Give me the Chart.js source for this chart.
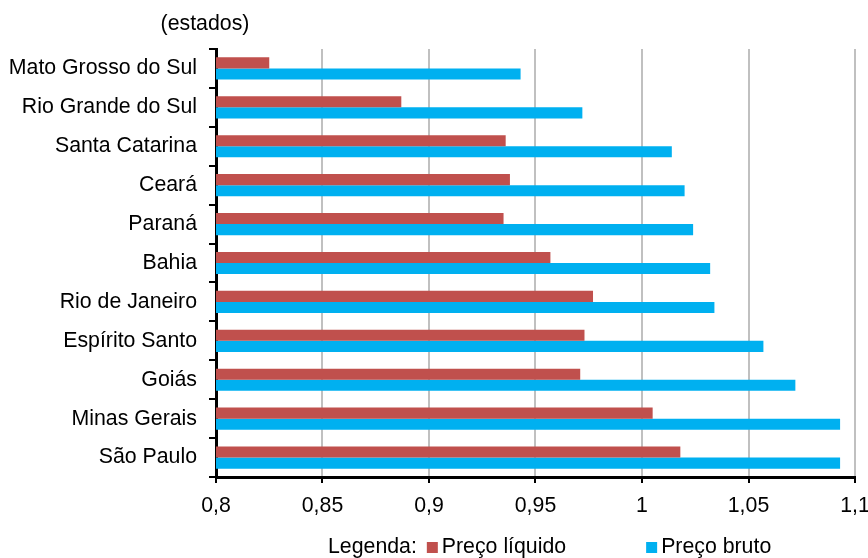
<!DOCTYPE html>
<html>
<head>
<meta charset="utf-8">
<script src="https://cdn.jsdelivr.net/npm/chart.js@4.4.1/dist/chart.umd.min.js"></script>
<style>
  html, body { margin: 0; padding: 0; background: #fff; }
  #wrap { width: 868px; height: 558px; }
</style>
</head>
<body>
<div id="wrap"><canvas id="grafico" width="868" height="558"></canvas></div>
<script>
// estados (de cima para baixo)
const estados = ['Mato Grosso do Sul', 'Rio Grande do Sul', 'Santa Catarina', 'Ceará', 'Paraná', 'Bahia',
    'Rio de Janeiro', 'Espírito Santo', 'Goiás', 'Minas Gerais', 'São Paulo'];
const precoLiquido = [0.825, 0.887, 0.936, 0.938, 0.935, 0.957, 0.977, 0.973, 0.971, 1.005, 1.018];
const precoBruto = [0.943, 0.972, 1.014, 1.020, 1.024, 1.032, 1.034, 1.057, 1.072, 1.093, 1.093];
const eixoX = { min: 0.8, max: 1.1, passo: 0.05 };

const fonte = { family: 'Arial, "Liberation Sans", sans-serif', size: 21.3 };

// texto "(estados)" e legenda desenhada à mão
const extras = {
    id: 'extras',
    afterDraw: (chart) => {
        const ctx = chart.ctx;
        const y = chart.scales.y;
        ctx.save();
        ctx.font = fonte.size + 'px ' + fonte.family;
        ctx.fillStyle = '#000';
        ctx.textBaseline = 'middle';
        ctx.textAlign = 'center';
        ctx.fillText('(estados)', y.right - 11, 24);

        // legenda
        ctx.textAlign = 'left';
        let x = 328;
        const ly = 547;
        ctx.fillText('Legenda:', x, ly);
        x += ctx.measureText('Legenda:').width + 10;
        chart.data.datasets.forEach((ds, i) => {
            ctx.fillStyle = ds.backgroundColor;
            ctx.fillRect(x, ly - 5, 11, 11);
            ctx.fillStyle = '#000';
            ctx.fillText(ds.label, x + 15, ly);
            x += 15 + ctx.measureText(ds.label).width + 80;
        });
        ctx.restore();
    }
};

const ctx = document.getElementById('grafico').getContext('2d');
const myChart = new Chart(ctx, {
    type: 'bar',
    data: {
        labels: estados,
        datasets: [{
            label: 'Preço líquido',
            data: precoLiquido,
            backgroundColor: '#C0504D',
            categoryPercentage: 0.57,
            barPercentage: 1.0
        }, {
            label: 'Preço bruto',
            data: precoBruto,
            backgroundColor: '#00B0F0',
            categoryPercentage: 0.57,
            barPercentage: 1.0
        }]
    },
    options: {
        indexAxis: 'y',
        responsive: false,
        animation: false,
        devicePixelRatio: 1,
        layout: {
            padding: { top: 49, right: 13, bottom: 40, left: 0 }
        },
        plugins: {
            legend: { display: false },
            tooltip: { enabled: false }
        },
        scales: {
            x: {
                min: eixoX.min,
                max: eixoX.max,
                afterFit: (scale) => {
                    scale.height = 41;
                    scale.paddingLeft = 0;
                    scale.paddingRight = 0;
                },
                afterBuildTicks: (scale) => {
                    const t = [];
                    for (let i = 0; i <= 6; i++) t.push({ value: +(eixoX.min + i * eixoX.passo).toFixed(2) });
                    scale.ticks = t;
                },
                grid: {
                    color: '#C0C0C0',
                    lineWidth: 2,
                    tickColor: '#000',
                    tickWidth: 2,
                    tickLength: 6
                },
                border: { color: '#000', width: 3 },
                ticks: {
                    color: '#000',
                    font: fonte,
                    padding: 10,
                    maxRotation: 0,
                    callback: (v) => (+v.toFixed(2)).toString().replace('.', ',')
                }
            },
            y: {
                afterFit: (scale) => { scale.width = 216; },
                grid: {
                    drawOnChartArea: false,
                    color: '#000',
                    lineWidth: 2,
                    tickLength: 7
                },
                border: { color: '#000', width: 3 },
                ticks: {
                    color: '#000',
                    font: fonte,
                    padding: 12
                }
            }
        }
    },
    plugins: [extras]
});
</script>
</body>
</html>
